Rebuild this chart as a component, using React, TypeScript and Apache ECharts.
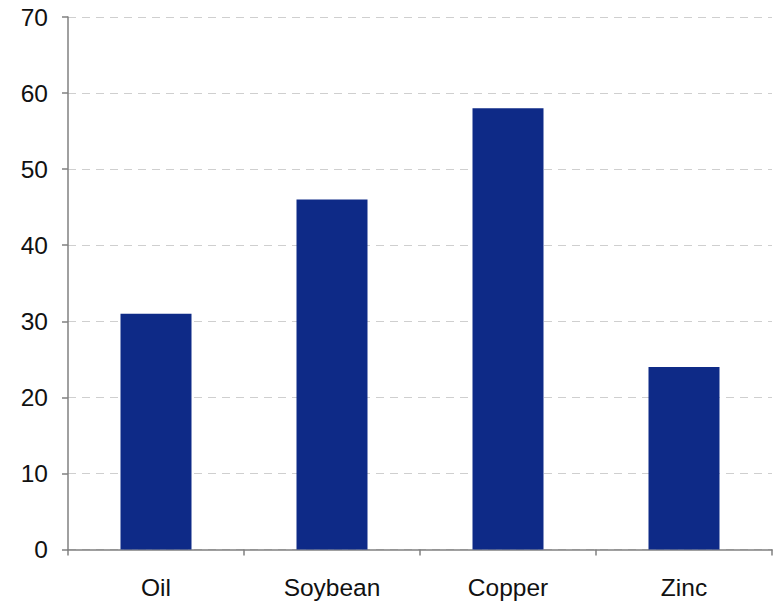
import React, { useEffect, useRef } from "react";
import * as echarts from "echarts";

const categories = ["Oil", "Soybean", "Copper", "Zinc"];
const values = [31, 46, 58, 24];

export default function App() {
  const ref = useRef<HTMLDivElement>(null);
  useEffect(() => {
    const chart = echarts.init(ref.current!, null, { renderer: "svg" });
    const font = "Liberation Sans";
    chart.setOption({
      animation: false,
      grid: { left: 68, right: 7, top: 17, bottom: 52.5 },
      xAxis: {
        type: "category",
        data: categories,
        axisLine: { lineStyle: { color: "#808080", width: 1.5 } },
        axisTick: { show: true, length: 6, lineStyle: { color: "#808080", width: 1.5 } },
        axisLabel: { color: "#111", fontSize: 24.5, fontFamily: font, margin: 25 },
      },
      yAxis: {
        type: "value",
        min: 0,
        max: 70,
        interval: 10,
        axisLine: { show: true, lineStyle: { color: "#808080", width: 1.5 } },
        axisTick: { show: true, length: 6, lineStyle: { color: "#808080", width: 1.5 } },
        axisLabel: { color: "#111", fontSize: 24.5, fontFamily: font, margin: 20 },
        splitLine: { lineStyle: { color: "#cfcfcf", type: [8, 6], width: 1.2 } },
      },
      series: [
        {
          type: "bar",
          data: values,
          barWidth: 71,
          itemStyle: { color: "#0e2a87" },
        },
      ],
    });
    return () => chart.dispose();
  }, []);
  return <div ref={ref} style={{ width: 779, height: 602, position: "absolute", left: 0, top: 0 }} />;
}
